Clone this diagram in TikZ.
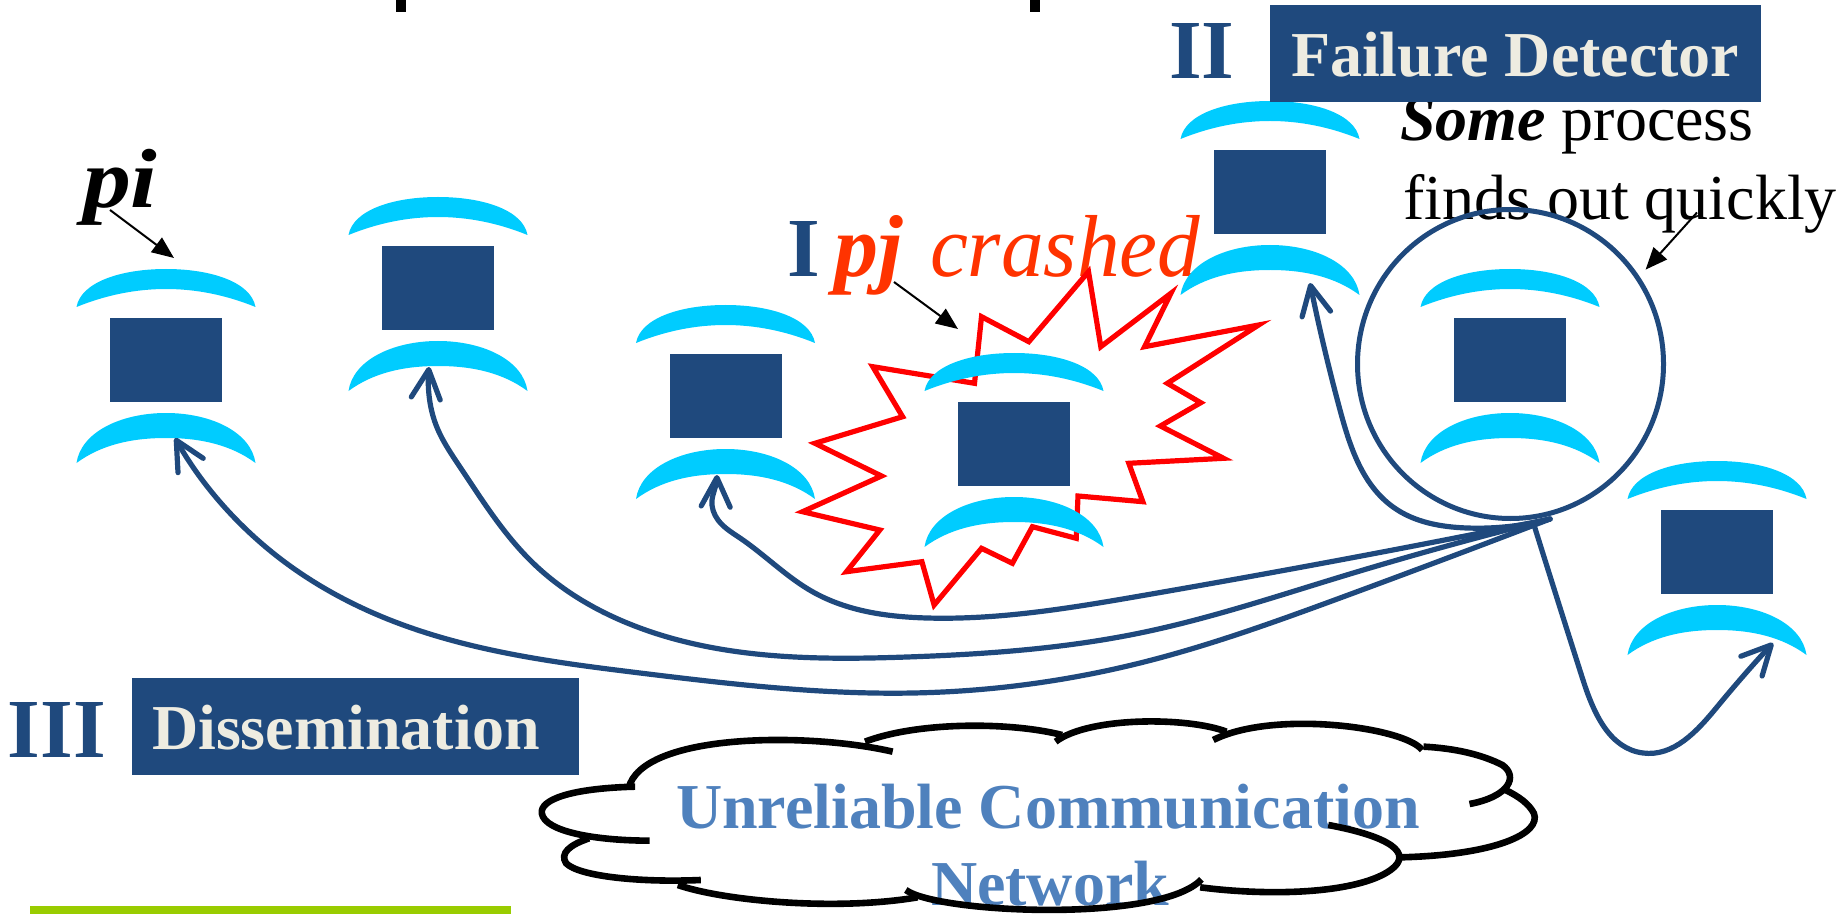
\documentclass[tikz,border=0pt]{standalone}
\usepackage{fontspec}
\setmainfont{Liberation Serif}
\usetikzlibrary{arrows.meta,shapes.geometric,hobby}
\definecolor{navy}{HTML}{1F497D}
\definecolor{sky}{HTML}{00CCFF}
\definecolor{cream}{HTML}{EEECE1}
\definecolor{crashred}{HTML}{FF3300}
\definecolor{cloudtext}{HTML}{4F81BD}
\definecolor{barlime}{HTML}{99CC00}
\tikzset{
  x=0.5pt,y=-0.5pt,
  body/.style={fill=navy,minimum width=56pt,minimum height=42pt,inner sep=0pt,outer sep=0pt},
  proc/.pic={
    \fill[sky] (-89.5,-53) .. controls (-85,-78) and (-45,-91) .. (0,-91)
       .. controls (45,-91) and (85,-78) .. (89.5,-53)
       .. controls (60,-65) and (30,-71) .. (0,-71)
       .. controls (-30,-71) and (-60,-65) .. (-89.5,-53) -- cycle;
    \fill[sky] (-89.5,103) .. controls (-85,72) and (-45,53) .. (0,53)
       .. controls (45,53) and (85,72) .. (89.5,103)
       .. controls (65,85) and (35,78) .. (0,78)
       .. controls (-35,78) and (-65,85) .. (-89.5,103) -- cycle;
    \node[body] (-body) at (0,0) {};
  },
  label text/.style={inner sep=0pt,outer sep=0pt,anchor=base west},
  banner/.style={fill=navy,inner sep=0pt,outer sep=0pt,anchor=north west},
  roman mark/.style={label text,text=navy,font=\fontsize{42}{42}\selectfont\bfseries},
  banner text/.style={label text,text=cream,font=\fontsize{32}{32}\selectfont\bfseries},
  cloud text/.style={label text,text=cloudtext,font=\fontsize{32}{32}\selectfont\bfseries},
  pointer/.style={black,line width=1pt,-{Triangle[length=11pt,width=9pt]}},
  link/.style={navy,line width=2.6pt,line cap=round,use Hobby shortcut,-{Straight Barb[length=14.5pt,width=14.5pt,round]}},
  cloudline/.style={black,line width=3.3pt},
}
\begin{document}
\begin{tikzpicture}
\useasboundingbox (0,0) rectangle (1845,914);
% title remnants
\fill[black] (396,0) rectangle (406,12);
\fill[black] (1030,0) rectangle (1040,12);
% texts under the shapes
\node[label text,font=\fontsize{42}{42}\selectfont\bfseries\itshape] (pilabel) at (83,208) {\scalebox{1.14}[1]{pi}};
\node[roman mark] (mark1) at (787,277) {I};
\node[label text,text=crashred,font=\fontsize{44}{44}\selectfont\bfseries\itshape] (pjlabel) at (834,277) {pj};
\node[label text,text=crashred,font=\fontsize{44}{44}\selectfont\itshape] (crashlabel) at (930,277) {\scalebox{0.97}[1]{crashed}};
\node[label text,font=\fontsize{32}{32}\selectfont] (some) at (1400,140.5) {\textbf{\textit{Some}} process};
\node[label text,font=\fontsize{32}{32}\selectfont] (finds) at (1403,219.5) {finds out quickly};
\node[roman mark] (mark2) at (1169,79) {II};
\node[roman mark] (mark3) at (8,757) {III};
% star
\draw[red,line width=2.6pt,miter limit=10] (974.5,383.3) -- (981.5,316.7) -- (1028.8,341.7) -- (1088.5,271.7)
  -- (1100.8,346.7) -- (1170.9,293.3) -- (1144.6,346.7) -- (1258.6,325) -- (1167.4,383.3) -- (1200.7,402.7)
  -- (1160.4,426) -- (1223.5,458.3) -- (1128.8,463.3) -- (1142.8,501.7) -- (1078,496) -- (1076.2,538.3)
  -- (1032.4,526.7) -- (1012.4,563.3) -- (981.5,548.3) -- (934.1,605) -- (921.9,561.7) -- (846.5,571.7)
  -- (879.8,530) -- (802.6,511.7) -- (881.5,476) -- (814.9,443.3) -- (902.6,416.7) -- (872.8,366.7) -- cycle;
% processes
\pic (p1) at (166,360) {proc};
\pic (p2) at (438,288) {proc};
\pic (p3) at (725.5,396) {proc};
\pic (p4) at (1014,444) {proc};
\pic (p5) at (1270,192) {proc};
\pic (p6) at (1510,360) {proc};
\pic (p7) at (1717,552) {proc};
% banners
\node[banner,minimum width=245.5pt,minimum height=48.5pt] (fdbox) at (1270,5) {};
\node[banner text] (fdtext) at (1291,77) {Failure Detector};
\node[banner,minimum width=223.5pt,minimum height=48.5pt] (dsbox) at (132,678) {};
\node[banner text] (dstext) at (152,749) {Dissemination};
% ring
\node[draw=navy,line width=2.5pt,ellipse,minimum width=153pt,minimum height=154.5pt,inner sep=0pt,outer sep=0pt] (ring) at (1510.5,364) {};
% connector ends
\coordinate (src) at (1550,519);
\coordinate (srcb) at (1534,525);
\coordinate (t1) at (175,438);
\coordinate (t2) at (429,367);
\coordinate (t3) at (717,475);
\coordinate (t5) at (1310,283);
\coordinate (t7) at (1773,643);
\draw[link] (src) .. (1340,598) .. (1140,663) .. (913,693) .. (640,673) .. (390,620) .. (273,553) .. (t1);
\draw[link] (src) .. (1340,577) .. (1140,633) .. (907,657) .. (640,628) .. (533,563) .. (460,467) .. (436,425) .. (429,395) .. (t2);
\draw[link] (src) .. (1340,560) .. (1140,596) .. (927,618) .. (813,592) .. (740,538) .. (718,520) .. (712,500) .. (715,488) .. (t3);
\draw[link] (src) .. (1467,528) .. (1393,507) .. (1340,410) .. (t5);
\draw[link] (srcb) .. (1583,680) .. (1643,753) .. (1717,707) .. (t7);
% small pointers
\coordinate (a1) at (110,210); \coordinate (b1) at (174,258);
\coordinate (a2) at (894,282); \coordinate (b2) at (958,329);
\coordinate (a3) at (1697,212.5); \coordinate (b3) at (1645.6,269.6);
\draw[pointer] (a1) -- (b1);
\draw[pointer] (a2) -- (b2);
\draw[pointer] (a3) -- (b3);
% cloud text
\node[cloud text] (net1) at (676,828) {Unreliable Communication};
\node[cloud text] (net2) at (931,905) {Network};
% cloud
\begin{scope}[shift={(530,690)},xscale=0.657,yscale=0.3333]
\draw[cloudline] (160,290) .. controls (60,295) and (15,330) .. (18,370) .. controls (22,425) and (100,452) .. (182,452);
\draw[cloudline] (90,445) .. controls (60,465) and (45,490) .. (55,520) .. controls (75,560) and (170,578) .. (260,570);
\draw[cloudline] (225,585) .. controls (290,630) and (460,665) .. (590,622);
\draw[cloudline] (572,600) .. controls (620,670) and (960,700) .. (1022,568);
\draw[cloudline] (1020,592) .. controls (1130,620) and (1260,610) .. (1310,540) .. controls (1345,490) and (1310,440) .. (1215,405);
\draw[cloudline] (1325,502) .. controls (1470,495) and (1540,430) .. (1528,370) .. controls (1520,340) and (1505,320) .. (1485,300);
\draw[cloudline] (1430,342) .. controls (1490,320) and (1505,260) .. (1480,225) .. controls (1450,195) and (1410,175) .. (1360,170);
\draw[cloudline] (1358,180) .. controls (1330,110) and (1130,60) .. (1040,150);
\draw[cloudline] (1060,125) .. controls (1000,80) and (850,80) .. (800,155);
\draw[cloudline] (810,135) .. controls (730,95) and (590,95) .. (510,155);
\draw[cloudline] (552,185) .. controls (420,125) and (170,130) .. (150,295);
\end{scope}
% bar
\fill[barlime] (30,906) rectangle (511,914);
\end{tikzpicture}
\end{document}
